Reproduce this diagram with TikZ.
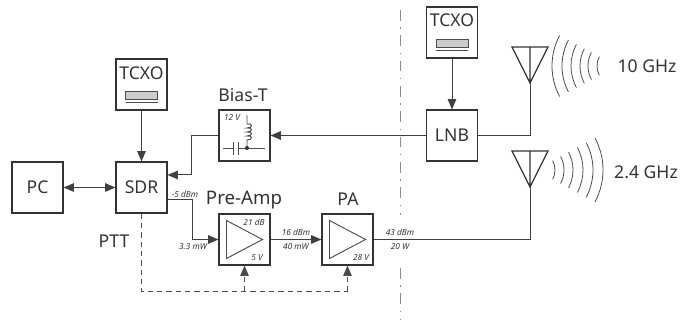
\documentclass[tikz,border=0pt]{standalone}
\usepackage{fontspec}
\setmainfont{Noto Sans}
\usetikzlibrary{arrows,positioning}

\begin{document}
\begin{tikzpicture}[x=0.75pt, y=-0.75pt, color=black!80, line width=0.75pt, >=triangle 45,
        block/.style={draw, line width=1.1pt, minimum size=38pt, inner sep=0pt, font=\fontsize{13.2}{16}\selectfont},
        title/.style={font=\fontsize{13.2}{16}\selectfont, inner sep=0pt},
        bigtitle/.style={font=\fontsize{14}{17}\selectfont, inner sep=0pt},
        small/.style={font=\fontsize{6.2}{7}\selectfont\itshape, inner sep=0pt},
        signal/.style={black!75},
        amp/.style={line width=0.7pt, black!70},
        wave/.style={line width=0.6pt, black!70},
        ptt/.style={dashed, dash pattern=on 4pt off 3pt, black!70},
        boundary/.style={black!45, dash pattern=on 8pt off 5pt on 1pt off 5pt}]
    \useasboundingbox (0,0) rectangle (682,320);

    % blocks
    \node[block] (pc) at (37.5,187.5) {PC};
    \node[block] (sdr) at (141.5,187.5) {SDR};
    \node[block] (tcxoa) at (141.5,84.5) {};
    \node[block] (tcxob) at (452,32.5) {};
    \node[block] (lnb) at (452,135.5) {LNB};
    \node[block] (biast) at (244.5,135.5) {};
    \node[block] (preamp) at (244.5,239.5) {};
    \node[block] (pa) at (347.5,239.5) {};

    % titles
    \node[title] (tcxoatext) at (141.5,73) {TCXO};
    \node[title] (tcxobtext) at (452,20.5) {TCXO};
    \node[title] (biastext) at (243,95) {Bias-T};
    \node[bigtitle] (preamptext) at (244,200) {Pre-Amp};
    \node[title] (patext) at (348,199) {PA};
    \node[title] (ptttext) at (114,241) {PTT};
    \node[title] (tenghz) at (647,66) {10 GHz};
    \node[title] (twoghz) at (646,172) {2.4 GHz};

    % crystals
    \foreach \osc in {tcxoa,tcxob}{
        \draw[amp, fill=black!20] ([shift={(-16,7)}]\osc.center) rectangle ([shift={(16,15)}]\osc.center);
        \draw[amp] ([shift={(-16,17.5)}]\osc.center) -- ([shift={(16,17.5)}]\osc.center);
    }

    % amplifiers
    \foreach \ampname in {preamp,pa}{
        \draw[amp] ([shift={(-18,-19)}]\ampname.center) -- ([shift={(18,0)}]\ampname.center)
            -- ([shift={(-18,19)}]\ampname.center) -- cycle;
    }

    % bias tee
    \coordinate (biasin) at (223,148);
    \coordinate (biasout) at (265,148);
    \coordinate (biasjoin) at (247,148);
    \draw[amp] (biasin) -- (233,148) (233,142) -- (233,155);
    \draw[amp] (238,142) -- (238,155) (238,148) -- (biasout);
    \draw[amp] (biasjoin) -- (247,140) .. controls (253,140) and (253,135) .. (247,136)
        .. controls (253,136) and (253,131) .. (247,132)
        .. controls (253,132) and (253,127) .. (247,128)
        .. controls (253,128) and (253,123) .. (247,124) -- (247,115);
    \fill (biasjoin) circle (2);

    % connectors
    \draw[signal,<->] (pc) -- (sdr);
    \draw[signal,->] (tcxoa) -- (sdr);
    \draw[signal,->] (tcxob) -- (lnb);
    \draw[signal,->] (lnb) -- (biast);
    \draw[signal,->] (biast.west) -- ++(-27,0) |- ([shift={(0,-12.5)}]sdr.east);
    \draw[signal,->] ([shift={(0,12.5)}]sdr.east) -- ++(25,0) |- (preamp.west);
    \draw[signal,->] (preamp) -- (pa);

    % antennas
    \coordinate (anta) at (530,83);
    \coordinate (antb) at (530,187);
    \draw[signal] (lnb.east) -| (anta);
    \draw[signal] (pa.east) -| (antb);
    \draw[line width=0.9pt] (anta) -- (512,47) -- (548,47) -- cycle (anta) -- (530,47);
    \draw[line width=0.9pt] (antb) -- (512,151) -- (548,151) -- cycle (antb) -- (530,151);

    % waves
    \coordinate (wavea) at (617,66);
    \coordinate (waveb) at (535,170);
    \foreach \rad in {20,29,37,46,55,65}{
        \draw[wave] ([shift={(152:\rad)}]wavea) arc[start angle=152, end angle=208, radius=\rad];
    }
    \foreach \rad in {20,29,38,48,58,68}{
        \draw[wave] ([shift={(-28:\rad)}]waveb) arc[start angle=-28, end angle=28, radius=\rad];
    }

    % ptt line
    \coordinate (pttcorner) at (141.5,291.5);
    \coordinate (pttend) at (347.5,291.5);
    \coordinate (pttmid) at (244.5,291.5);
    \draw[ptt] (sdr.south) -- (pttcorner) -- (pttend);
    \draw[ptt,->] (pttmid) -- (preamp.south);
    \draw[ptt,->] (pttend) -- (pa.south);

    % boundary
    \coordinate (boundtop) at (400.5,10);
    \coordinate (boundgapa) at (400.5,215);
    \coordinate (boundgapb) at (400.5,268);
    \coordinate (boundbot) at (400.5,320);
    \draw[boundary] (boundtop) -- (boundgapa);
    \draw[boundary] (boundgapb) -- (boundbot);

    % levels
    \node[small] (lvlsdr) at (185,194) {-5 dBm};
    \node[small] (lvlin) at (193,247) {3.3 mW};
    \node[small] (lvlgain) at (254,222) {21 dB};
    \node[small] (lvlpre) at (257,258) {5 V};
    \node[small] (lvlmid) at (296,232) {16 dBm};
    \node[small] (lvlmidw) at (296,247) {40 mW};
    \node[small] (lvlpa) at (361,258) {28 V};
    \node[small] (lvlout) at (400,232) {43 dBm};
    \node[small] (lvloutw) at (400,247) {20 W};
    \node[small] (lvlbias) at (232,118) {12 V};
\end{tikzpicture}
\end{document}
